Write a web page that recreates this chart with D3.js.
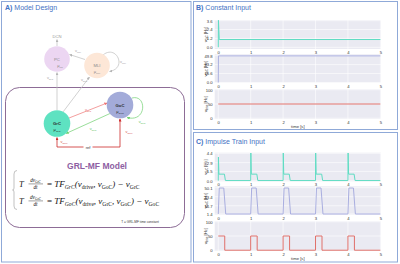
<!DOCTYPE html>
<html><head><meta charset="utf-8">
<script src="https://cdn.jsdelivr.net/npm/d3@7"></script>
<style>body{margin:0;background:#fff}svg{display:block}</style>
</head><body>
<svg id="c" width="400" height="264"></svg>
<script>
// ---------------- data ----------------
const xTicks = [0, 1, 2, 3, 4, 5];

const constTime  = [0, 0.005, 0.03, 5];
const constGrC   = [0, 3.65, 1.05, 1.05];
const constGoC   = [0, 49.4, 49.4, 49.4];
const constDrive = [50, 50, 50, 50];

const impTimeGrC = [0, 0.005, 0.02, 0.19, 0.22, 1.0, 1.005, 1.02, 1.19, 1.22, 2.0, 2.005, 2.02, 2.19, 2.22, 3.0, 3.005, 3.02, 3.19, 3.22, 4.0, 4.005, 4.02, 4.19, 4.22, 5.0];
const impGrC     = [0, 3.8, 1.05, 1.05, 0.02, 0.02, 4.45, 1.05, 1.05, 0.02, 0.02, 4.45, 1.05, 1.05, 0.02, 0.02, 4.45, 1.05, 1.05, 0.02, 0.02, 4.45, 1.05, 1.05, 0.02, 0.02];
const impTimeGoC = [0, 0.03, 0.17, 0.23, 1.0, 1.03, 1.17, 1.23, 2.0, 2.03, 2.17, 2.23, 3.0, 3.03, 3.17, 3.23, 4.0, 4.03, 4.17, 4.23, 5.0];
const impGoC     = [1.4, 49.5, 49.5, 1.4, 1.4, 49.5, 49.5, 1.4, 1.4, 49.5, 49.5, 1.4, 1.4, 49.5, 49.5, 1.4, 1.4, 49.5, 49.5, 1.4, 1.4];
const impTimeDrive = [0, 0.2, 0.2, 1.0, 1.0, 1.2, 1.2, 2.0, 2.0, 2.2, 2.2, 3.0, 3.0, 3.2, 3.2, 4.0, 4.0, 4.2, 4.2, 5.0];
const impDrive     = [50, 50, 0, 0, 50, 50, 0, 0, 50, 50, 0, 0, 50, 50, 0, 0, 50, 50, 0, 0];

const tickB1 = ["0.0", "1.2", "2.4", "3.6"];
const tickB2 = ["0.0", "16.6", "33.2", "49.8"];
const tickB3 = ["0", "50", "100"];
const tickC1 = ["0.0", "1.5", "2.9", "4.4"];
const tickC2 = ["1.4", "16.7", "33.4", "50.1"];
const tickC3 = ["0", "50", "100"];

// ---------------- setup ----------------
const svg = d3.select("#c");
const SANS = "'Liberation Sans', Arial, sans-serif";
const SERIF = "'Liberation Serif', 'DejaVu Serif', serif";
const C_GRC = "#5fdcc3", C_GOC = "#a9aee0", C_DRV = "#e0706a";

function rich(sel, parts, size) {
  let prevSub = false;
  const sh = size * 0.28;
  parts.forEach(p => {
    const [txt, type] = p;
    const isSub = type.includes("s");
    const t = sel.append("tspan").text(txt)
      .attr("font-size", isSub ? size * 0.62 : size)
      .attr("font-style", type.includes("i") ? "italic" : "normal");
    if (isSub && !prevSub) t.attr("dy", sh);
    if (!isSub && prevSub) t.attr("dy", -sh);
    prevSub = isSub;
  });
  return sel;
}

const defs = svg.append("defs");
function marker(id, color) {
  defs.append("marker").attr("id", id).attr("viewBox", "0 0 6 6")
    .attr("refX", 5.5).attr("refY", 3).attr("markerWidth", 3).attr("markerHeight", 3)
    .attr("markerUnits", "userSpaceOnUse").attr("orient", "auto")
    .append("path").attr("d", "M0,0 L6,3 L0,6 z").attr("fill", color);
}
marker("mg", "#b5b5b5"); marker("mr", "#ee7474"); marker("mR", "#cc2a2a"); marker("mG", "#6fd06f");

// ---------------- panel frames ----------------
const frameColor = "#8fa9d8";
[[1.5, 1.5, 189.5, 260.5], [193.5, 1.5, 204, 128], [193.5, 132.5, 204, 129.5]].forEach(r => {
  svg.append("rect").attr("x", r[0]).attr("y", r[1]).attr("width", r[2]).attr("height", r[3])
    .attr("fill", "none").attr("stroke", frameColor).attr("stroke-width", 1);
});
function title(x, y, letter, rest) {
  const t = svg.append("text").attr("x", x).attr("y", y).attr("font-family", SANS)
    .attr("font-size", 7).attr("fill", "#4472c4");
  t.append("tspan").text(letter).attr("font-weight", "bold");
  t.append("tspan").text(" " + rest);
}
title(5, 10, "A)", "Model Design");
title(196, 10, "B)", "Constant Input");
title(196, 143.5, "C)", "Impulse Train Input");

// ---------------- panel A diagram ----------------
const gA = svg.append("g");
gA.append("rect").attr("x", 5.5).attr("y", 87.5).attr("width", 179).attr("height", 140).attr("rx", 14)
  .attr("fill", "none").attr("stroke", "#8d6c96").attr("stroke-width", 1);

const gray = "#bdbdbd";
gA.append("line").attr("x1", 57).attr("y1", 46).attr("x2", 57).attr("y2", 39.5).attr("stroke", gray).attr("stroke-width", 0.7).attr("marker-end", "url(#mg)");
gA.append("line").attr("x1", 57).attr("y1", 110).attr("x2", 57).attr("y2", 72.5).attr("stroke", gray).attr("stroke-width", 0.7).attr("marker-end", "url(#mg)");
gA.append("line").attr("x1", 63).attr("y1", 112).attr("x2", 89.5).attr("y2", 77).attr("stroke", gray).attr("stroke-width", 0.7).attr("marker-end", "url(#mg)");
gA.append("line").attr("x1", 85).attr("y1", 59.5).attr("x2", 69.5).attr("y2", 54.5).attr("stroke", gray).attr("stroke-width", 0.7).attr("marker-end", "url(#mg)");
gA.append("path").attr("d", "M103,55 C116,44 128,68 109.5,71.5").attr("fill", "none").attr("stroke", gray).attr("stroke-width", 0.7).attr("marker-end", "url(#mg)");

gA.append("line").attr("x1", 69).attr("y1", 118).attr("x2", 107).attr("y2", 103).attr("stroke", "#ee7474").attr("stroke-width", 0.7).attr("marker-end", "url(#mr)");
gA.append("line").attr("x1", 110).attr("y1", 113.5).attr("x2", 66).attr("y2", 133.5).attr("stroke", "#6fd06f").attr("stroke-width", 0.7).attr("marker-end", "url(#mG)");
gA.append("path").attr("d", "M132,98 C147,94 147,123 127,117.5").attr("fill", "none").attr("stroke", "#6fd06f").attr("stroke-width", 0.7).attr("marker-end", "url(#mG)");
gA.append("path").attr("d", "M88,147 L57,147 L57,137.5").attr("fill", "none").attr("stroke", "#cc2a2a").attr("stroke-width", 0.8).attr("marker-end", "url(#mR)");
gA.append("path").attr("d", "M88,147 L120,147 L120,118.8").attr("fill", "none").attr("stroke", "#cc2a2a").attr("stroke-width", 0.8).attr("marker-end", "url(#mR)");
gA.append("rect").attr("x", 83.5).attr("y", 144.5).attr("width", 9).attr("height", 5).attr("fill", "#fff");
gA.append("text").attr("x", 88).attr("y", 148.5).attr("text-anchor", "middle").attr("font-family", SANS).attr("font-size", 4).attr("fill", "#333").text("ref");

const nodes = [
  {name: "PC",  sub: "PC",  x: 57,  y: 59,  r: 12.8, fill: "#ecd6f2", tc: "#8a8a8a", w: "normal"},
  {name: "MLI", sub: "MLI", x: 97,  y: 65.5, r: 12.8, fill: "#fde7d7", tc: "#8a8a8a", w: "normal"},
  {name: "GrC", sub: "GrC", x: 57,  y: 123.5, r: 13.3, fill: "#5ee2c1", tc: "#2a2a2a", w: "bold"},
  {name: "GoC", sub: "GoC", x: 120, y: 105, r: 13.3, fill: "#a3abd9", tc: "#2a2a2a", w: "bold"}
];
nodes.forEach(n => {
  gA.append("circle").attr("cx", n.x).attr("cy", n.y).attr("r", n.r).attr("fill", n.fill);
  gA.append("text").attr("x", n.x).attr("y", n.y + 1.5).attr("text-anchor", "middle")
    .attr("font-family", SANS).attr("font-size", 4.2).attr("font-weight", n.w).attr("fill", n.tc).text(n.name);
  rich(gA.append("text").attr("x", n.x + (n.name === "PC" ? 3 : 0)).attr("y", n.y + 7.5).attr("text-anchor", "middle")
    .attr("font-family", SANS).attr("fill", n.tc), [["μ", "n"], [n.sub, "s"]], 4);
});
gA.append("text").attr("x", 57).attr("y", 38).attr("text-anchor", "middle").attr("font-family", SANS)
  .attr("font-size", 4.2).attr("fill", "#999").text("DCN");

const arrowLabels = [
  {x: 78,  y: 51.5, s: "MLI", c: "#999"},
  {x: 123, y: 62.5, s: "MLI", c: "#999"},
  {x: 50,  y: 79,   s: "GrC", c: "#999"},
  {x: 84,  y: 81,   s: "GrC", c: "#999"},
  {x: 88,  y: 111,  s: "GrC", c: "#e06060"},
  {x: 93,  y: 130,  s: "GoC", c: "#55bb55"},
  {x: 142, y: 123,  s: "GoC", c: "#55bb55"},
  {x: 64,  y: 142.5, s: "drive", c: "#d04040"},
  {x: 129, y: 133,  s: "drive", c: "#d04040"}
];
arrowLabels.forEach(a => {
  rich(gA.append("text").attr("x", a.x).attr("y", a.y).attr("text-anchor", "middle")
    .attr("font-family", SANS).attr("fill", a.c), [["ν", "n"], [a.s, "s"]], 3.8);
});

gA.append("text").attr("x", 97).attr("y", 168.5).attr("text-anchor", "middle").attr("font-family", SANS)
  .attr("font-size", 8.5).attr("font-weight", "bold").attr("fill", "#8e5ea2").text("GRL-MF Model");

gA.append("path").attr("d", "M17,170.5 Q14,170.5 14,174 L14,188 Q14,190 12.5,190 Q14,190 14,192 L14,206 Q14,209.5 17,209.5")
  .attr("fill", "none").attr("stroke", "#999").attr("stroke-width", 0.6);

function equation(yb, subA, mainParts) {
  gA.append("text").attr("x", 19).attr("y", yb).attr("font-family", SERIF).attr("font-size", 8.5)
    .attr("font-style", "italic").attr("fill", "#111").text("T");
  rich(gA.append("text").attr("x", 35.5).attr("y", yb - 4.8).attr("text-anchor", "middle")
    .attr("font-family", SERIF).attr("fill", "#111"), [["dν", "i"], [subA, "s"]], 5.2);
  gA.append("line").attr("x1", 28.5).attr("x2", 43).attr("y1", yb - 2.6).attr("y2", yb - 2.6)
    .attr("stroke", "#111").attr("stroke-width", 0.4);
  gA.append("text").attr("x", 35.5).attr("y", yb + 2.8).attr("text-anchor", "middle")
    .attr("font-family", SERIF).attr("font-size", 5.2).attr("font-style", "italic").attr("fill", "#111").text("dt");
  rich(gA.append("text").attr("x", 47).attr("y", yb).attr("font-family", SERIF).attr("fill", "#111"), mainParts, 9);
}
equation(186.5, "GrC", [["= ", "n"], ["TF", "i"], ["GrC", "si"], ["(ν", "i"], ["drive", "s"], [", ν", "i"], ["GoC", "s"], [") − ν", "i"], ["GrC", "s"]]);
equation(203.5, "GoC", [["= ", "n"], ["TF", "i"], ["GoC", "si"], ["(ν", "i"], ["drive", "s"], [", ν", "i"], ["GrC", "s"], [", ν", "i"], ["GoC", "s"], [") − ν", "i"], ["GoC", "s"]]);

gA.append("text").attr("x", 140).attr("y", 222.5).attr("text-anchor", "middle").attr("font-family", SANS)
  .attr("font-size", 3.2).attr("fill", "#333").text("T = GRL-MF time constant");

// ---------------- plots ----------------
const x = d3.scaleLinear().domain([-0.11, 5.02]).range([214.7, 381]);

function subplot(top, bottom, domain, labels, times, values, color, sub, xlabelY) {
  const y = d3.scaleLinear().domain(domain).range([bottom, top]);
  const g = svg.append("g");
  g.append("rect").attr("x", x.range()[0]).attr("y", top).attr("width", x.range()[1] - x.range()[0])
    .attr("height", bottom - top).attr("fill", "#eaeaf2");
  const tv = labels.map(Number);
  g.selectAll(".gx").data(xTicks).join("line").attr("x1", d => x(d)).attr("x2", d => x(d))
    .attr("y1", top).attr("y2", bottom).attr("stroke", "#fff").attr("stroke-width", 0.6);
  g.selectAll(".gy").data(tv).join("line").attr("y1", d => y(d)).attr("y2", d => y(d))
    .attr("x1", x.range()[0]).attr("x2", x.range()[1]).attr("stroke", "#fff").attr("stroke-width", 0.6);

  const ax = g.append("g").attr("transform", `translate(0,${bottom})`)
    .call(d3.axisBottom(x).tickValues(xTicks).tickSize(0).tickPadding(2.2).tickFormat(d3.format("d")));
  const ay = g.append("g").attr("transform", `translate(${x.range()[0]},0)`)
    .call(d3.axisLeft(y).tickValues(tv).tickSize(0).tickPadding(2).tickFormat((d, i) => labels[i]));
  [ax, ay].forEach(a => {
    a.select(".domain").remove();
    a.selectAll("text").attr("font-family", SANS).attr("font-size", 4.2).attr("fill", "#333");
  });

  const pts = times.map((t, i) => [t, values[i]]);
  g.append("path").datum(pts).attr("d", d3.line().x(d => x(d[0])).y(d => y(d[1])))
    .attr("fill", "none").attr("stroke", color).attr("stroke-width", 1);

  rich(g.append("text").attr("transform", `translate(206.5,${(top + bottom) / 2}) rotate(-90)`)
    .attr("text-anchor", "middle").attr("font-family", SANS).attr("fill", "#333"),
    [["ν", "n"], [sub, "s"], [" [Hz]", "n"]], 4.2);

  if (xlabelY) {
    g.append("text").attr("x", (x.range()[0] + x.range()[1]) / 2).attr("y", xlabelY).attr("text-anchor", "middle")
      .attr("font-family", SANS).attr("font-size", 4.2).attr("fill", "#333").text("time [s]");
  }
}

subplot(20, 49, [-0.23, 3.69], tickB1, constTime, constGrC, C_GRC, "GrC");
subplot(54.3, 82.7, [-0.3, 52.3], tickB2, constTime, constGoC, C_GOC, "GoC");
subplot(89.3, 119, [-2.8, 101.8], tickB3, constTime, constDrive, C_DRV, "drive", 127.5);

subplot(152.7, 181.3, [-0.1, 4.5], tickC1, impTimeGrC, impGrC, C_GRC, "GrC");
subplot(186.3, 214.7, [0.1, 52.7], tickC2, impTimeGoC, impGoC, C_GOC, "GoC");
subplot(221.3, 251, [-2.8, 101.8], tickC3, impTimeDrive, impDrive, C_DRV, "drive", 260);
</script>
</body></html>
